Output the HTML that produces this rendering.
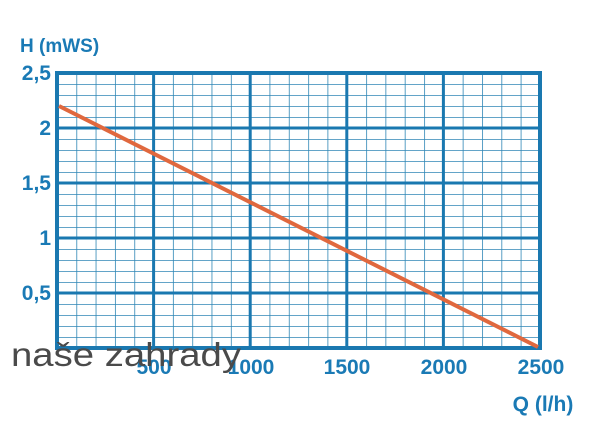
<!DOCTYPE html>
<html><head><style>body{margin:0;background:#fff}svg{display:block}</style></head><body>
<svg width="600" height="445" xmlns="http://www.w3.org/2000/svg" font-family="Liberation Sans, DejaVu Sans, sans-serif">
<defs>
<pattern id="mn" x="57" y="73" width="19.32" height="11" patternUnits="userSpaceOnUse">
<path d="M0 0V11M0 0H19.32" stroke="#2f86b5" stroke-width="1.6" fill="none"/>
</pattern>
</defs>
<rect width="600" height="445" fill="#fff"/>
<rect x="57" y="73" width="483" height="275" fill="url(#mn)"/>
<g stroke="#1a78b0" stroke-width="3">
<line x1="153.6" y1="73" x2="153.6" y2="348"/>
<line x1="250.2" y1="73" x2="250.2" y2="348"/>
<line x1="346.8" y1="73" x2="346.8" y2="348"/>
<line x1="443.4" y1="73" x2="443.4" y2="348"/>
<line x1="57" y1="128" x2="540" y2="128"/>
<line x1="57" y1="183" x2="540" y2="183"/>
<line x1="57" y1="238" x2="540" y2="238"/>
<line x1="57" y1="293" x2="540" y2="293"/>
</g>
<rect x="57" y="73" width="483" height="275" fill="none" stroke="#1a78b0" stroke-width="4"/>
<line x1="59" y1="106" x2="538" y2="347" stroke="#e0683e" stroke-width="4"/>
<g fill="#1a7ab5" font-weight="bold" font-size="21">
<text x="20" y="52" font-size="19">H (mWS)</text>
<text x="51" y="80" text-anchor="end">2,5</text>
<text x="51" y="135" text-anchor="end">2</text>
<text x="51" y="190" text-anchor="end">1,5</text>
<text x="51" y="245" text-anchor="end">1</text>
<text x="51" y="300" text-anchor="end">0,5</text>
<text x="154" y="374" text-anchor="middle">500</text>
<text x="251" y="374" text-anchor="middle">1000</text>
<text x="347" y="374" text-anchor="middle">1500</text>
<text x="444" y="374" text-anchor="middle">2000</text>
<text x="541" y="374" text-anchor="middle">2500</text>
<text x="543" y="411" text-anchor="middle">Q (l/h)</text>
</g>
<text x="11" y="366" font-size="33" fill="#4a4a4a" textLength="230" lengthAdjust="spacingAndGlyphs">naše zahrady</text>
</svg>
</body></html>
